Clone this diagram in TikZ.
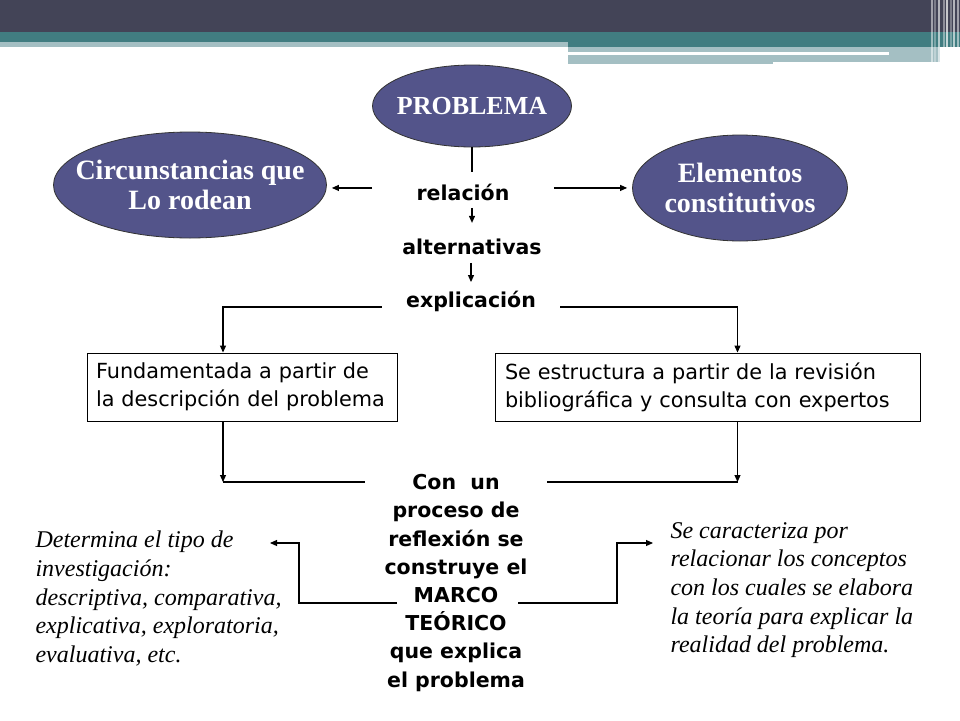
\documentclass[tikz,border=0pt]{standalone}
\usepackage{fontspec}
\setmainfont{Liberation Serif}
\setsansfont{DejaVu Sans}
\usetikzlibrary{shapes.geometric,arrows.meta}
\definecolor{bardark}{HTML}{434457}
\definecolor{barteal}{HTML}{417D81}
\definecolor{barlight}{HTML}{A4BFC3}
\definecolor{bubblefill}{HTML}{53548A}

\begin{document}
\begin{tikzpicture}[x=1pt,y=-1pt,line width=1.1pt,
  bubble/.style={draw=black!80,line width=0.8pt,ellipse,fill=bubblefill,inner sep=0pt},
  btext/.style={text=white,font=\bfseries\fontsize{28}{30}\selectfont,align=center},
  word/.style={font=\sffamily\bfseries\fontsize{20.5}{28.2}\selectfont,inner sep=0pt},
  box/.style={draw,line width=0.9pt,rectangle,font=\sffamily\fontsize{20.8}{28}\selectfont,align=left,inner xsep=9pt,minimum height=68pt},
  note/.style={font=\itshape\fontsize{24}{28.6}\selectfont,align=left,inner sep=0pt,anchor=north west},
  arr/.style={-{Triangle[length=7pt,width=6pt]}}]
  \useasboundingbox (0,0) rectangle (960,720);
  % header bar
  \fill[bardark] (0,0) rectangle (960,32);
  \fill[barteal] (0,32) rectangle (960,42);
  \fill[barteal] (568,42) rectangle (960,47);
  \fill[barlight] (0,42) rectangle (568,47);
  \fill[barlight] (568,47) rectangle (940,62);
  \fill[barlight] (568,62) rectangle (773,64);
  \fill[white] (568,52) rectangle (889,55);
  \foreach \x/\o in {932/0.5, 935/0.3, 939/0.6, 944/0.4, 947/0.7, 951/0.3, 954/0.6, 958/0.5}
    \draw[white,line width=1.2pt,opacity=\o] (\x,0) -- (\x,64);

  % ellipses
  \node[bubble,minimum width=199pt,minimum height=82pt,
    label={[btext,font=\bfseries\fontsize{26}{30}\selectfont]center:PROBLEMA}] (prob) at (472,106) {};
  \node[bubble,minimum width=273pt,minimum height=106pt,
    label={[btext]center:Circunstancias que\\Lo rodean}] (circ) at (190,185) {};
  \node[bubble,minimum width=215pt,minimum height=106pt,
    label={[btext]center:Elementos\\constitutivos}] (elem) at (740,188) {};

  \node[word,anchor=base,inner xsep=44pt] (rel) at (463,200) {relación};
  \node[word,anchor=base] (alt) at (472,254) {alternativas};
  \node[word,anchor=base,inner xsep=24pt] (expl) at (471,307) {explicación};

  \draw (prob.south) -- ([yshift=11pt]rel.north -| prob.south);
  \draw[arr,shorten >=5pt] ([yshift=4pt]rel.west) -- ([yshift=4pt]rel.west -| circ.east);
  \draw[arr,shorten >=5pt] ([yshift=4pt]rel.east) -- ([yshift=4pt]rel.east -| elem.west);
  \draw[arr,shorten <=7pt,shorten >=15pt] (rel.south -| alt.north) -- (alt.north);
  \draw[arr,shorten <=8pt,shorten >=8pt] (alt.south -| expl.north) -- (expl.north);

  % boxes
  \node[box,text width=292pt] (fund) at (242,387) {Fundamentada a partir de\\la descripción del problema};
  \node[box,text width=405pt,inner xsep=10pt] (estr) at (707.5,387) {Se estructura a partir de la revisión\\bibliográfica y consulta con expertos};
  \draw[arr] (expl.base west) -| ([xshift=-19pt]fund.north);
  \draw[arr] (expl.base east) -| ([xshift=30pt]estr.north);

  \node[word,align=center,anchor=north,inner xsep=19pt] (marco) at (456,474)
    {Con~ un\\proceso de\\reflexión se\\construye el\\MARCO\\TEÓRICO\\que explica\\el problema};

  \coordinate (jl) at (223,482);
  \coordinate (jr) at (737.5,482);
  \draw[arr] ([xshift=-19pt]fund.south) -- (jl);
  \draw (jl) -- (jl -| marco.west);
  \draw[arr] ([xshift=30pt]estr.south) -- (jr);
  \draw (jr) -- (jr -| marco.east);

  % notes
  \node[note] (det) at (35,530.6) {Determina el tipo de\\investigación:\\descriptiva, comparativa,\\explicativa, exploratoria,\\evaluativa, etc.};
  \node[note] (cara) at (670,521.8) {Se caracteriza por\\relacionar los conceptos\\con los cuales se elabora\\la teoría para explicar la\\realidad del problema.};

  \coordinate (ml) at (397,603);
  \coordinate (kl) at (299,543);
  \coordinate (tl) at (270,543);
  \draw[arr] (ml) -| (kl) -- (tl);
  \coordinate (mr) at (518,603);
  \coordinate (kr) at (617,543);
  \coordinate (tr) at (653,543);
  \draw[arr] (mr) -| (kr) -- (tr);
\end{tikzpicture}
\end{document}
